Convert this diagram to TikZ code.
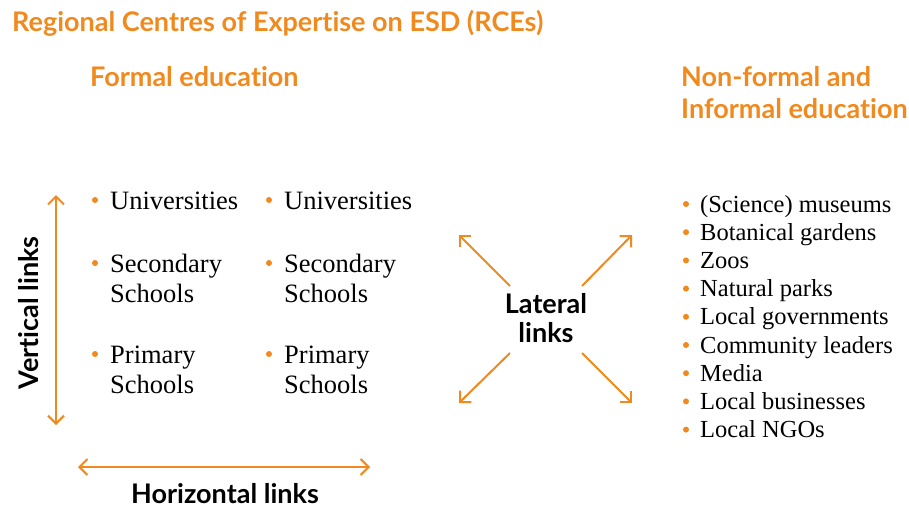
\documentclass[tikz,border=0pt]{standalone}
\usepackage{fontspec}
\setmainfont{Liberation Serif}
\newfontfamily\hdfont[Ligatures=NoCommon]{Lato}
\usetikzlibrary{arrows.meta}
\definecolor{rceorange}{RGB}{240,138,30}
\tikzset{
  head/.style={font=\hdfont\bfseries\fontsize{27}{31}\selectfont, text=rceorange, anchor=base west, inner sep=0pt},
  linklabel/.style={font=\hdfont\bfseries\fontsize{27}{29}\selectfont, text=black, inner sep=0pt},
  itemL/.style={font=\fontsize{26.5}{30.5}\selectfont, anchor=base west, inner sep=0pt, align=left},
  itemR/.style={font=\fontsize{24.5}{28}\selectfont, anchor=base west, inner sep=0pt},
  dot/.style={circle, fill=rceorange, inner sep=0pt, minimum size=6pt},
  linkarrow/.style={draw=rceorange, line width=2pt, {Straight Barb[length=8pt,width=16pt]}-{Straight Barb[length=8pt,width=16pt]}},
  onearrow/.style={draw=rceorange, line width=2pt, -{Straight Barb[length=8pt,width=16pt]}}
}
\begin{document}
\begin{tikzpicture}[x=1pt,y=-1pt]
\useasboundingbox (0,0) rectangle (909,508);
% headings
\node[head] (title) at (12,32) {Regional Centres of Expertise on ESD (RCEs)};
\node[head] (formal) at (90,87) {Formal education};
\node[head] (nonformal) at (681,87) {Non-formal and};
\node[head] (informal) at (681,118) {Informal education};
% left columns
\node[itemL] (u1) at (110,209) {Universities};
\node[itemL] (s1) at (110,272) {Secondary};
\node[itemL] (s1b) at (110,302) {Schools};
\node[itemL] (p1) at (110,363) {Primary};
\node[itemL] (p1b) at (110,393) {Schools};
\node[itemL] (u2) at (284,209) {Universities};
\node[itemL] (s2) at (284,272) {Secondary};
\node[itemL] (s2b) at (284,302) {Schools};
\node[itemL] (p2) at (284,363) {Primary};
\node[itemL] (p2b) at (284,393) {Schools};
\foreach \x in {95,269}{
  \foreach \y in {200,263,354}{
    \node[dot] at (\x,\y) {};
  }
}
% right list
\foreach \t [count=\i from 0] in {(Science) museums,Botanical gardens,Zoos,Natural parks,Local governments,Community leaders,Media,Local businesses,Local NGOs}{
  \node[itemR] (r\i) at (700,212+28.2*\i) {\t};
  \node[dot] (rd\i) at (686,204+28.2*\i) {};
}
% vertical links
\coordinate (vt) at (56,195);
\coordinate (vb) at (56,425);
\draw[linkarrow] (vt) -- (vb);
\node[linklabel, rotate=90, anchor=base] (vlab) at (38,313) {Vertical links};
% horizontal links
\coordinate (hl) at (78,467);
\coordinate (hr) at (370,467);
\draw[linkarrow] (hl) -- (hr);
\node[linklabel, anchor=base] (hlab) at (225,503) {Horizontal links};
% lateral links
\node[linklabel, anchor=base] (lat1) at (546,313) {Lateral};
\node[linklabel, anchor=base] (lat2) at (546,342) {links};
\coordinate (ul) at (459,235);
\coordinate (ur) at (632,235);
\coordinate (ll) at (459,403);
\coordinate (lr) at (632,403);
\draw[onearrow] (510,286) -- (ul);
\draw[onearrow] (582,286) -- (ur);
\draw[onearrow] (510,353) -- (ll);
\draw[onearrow] (582,353) -- (lr);
\end{tikzpicture}
\end{document}
